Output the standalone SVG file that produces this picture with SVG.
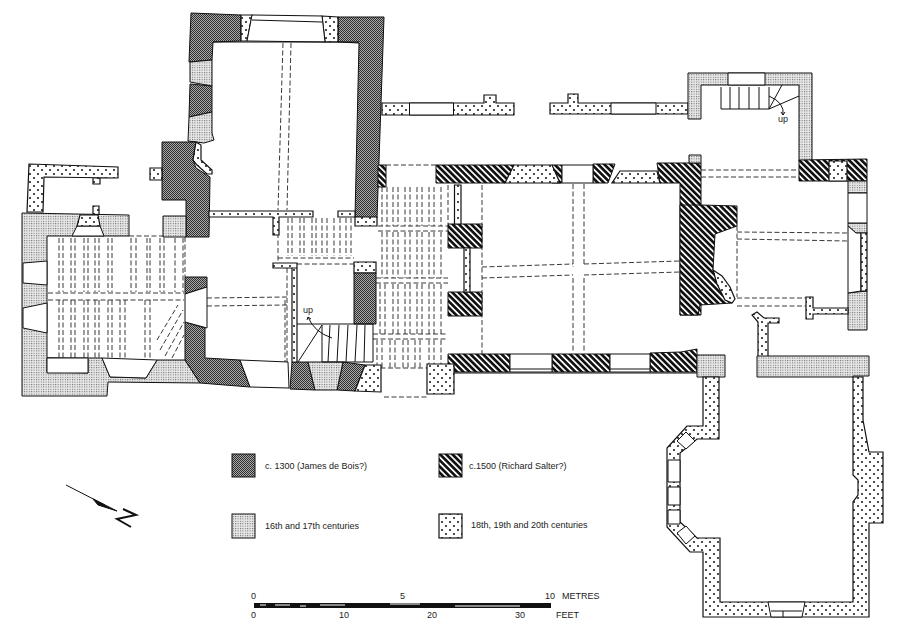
<svg xmlns="http://www.w3.org/2000/svg" width="900" height="635" viewBox="0 0 900 635">
<style>
text{font-family:"Liberation Sans",Arial,sans-serif;font-size:9px;fill:#222}
.a{fill:url(#p13);stroke:#111;stroke-width:1}
.b{fill:url(#p15);stroke:#111;stroke-width:1}
.c{fill:url(#p16);stroke:#111;stroke-width:1}
.d{fill:url(#p18);stroke:#111;stroke-width:1.2}
.w{fill:#fff;stroke:#111;stroke-width:1}
.l{fill:none;stroke:#111;stroke-width:1}
.j{fill:none;stroke:#222;stroke-width:.9;stroke-dasharray:5 2.5}
</style>
<defs>
<pattern id="p13" width="2" height="2" patternUnits="userSpaceOnUse"><rect width="2" height="2" fill="#a8a8a8"/><rect width="1" height="1" fill="#303030"/><rect x="1" y="1" width="1" height="1" fill="#303030"/></pattern>
<pattern id="p15" width="4.400" height="4.400" patternUnits="userSpaceOnUse" patternTransform="rotate(45)"><rect width="4.400" height="4.400" fill="#fff"/><rect width="4.400" height="2.700" fill="#111"/></pattern>
<pattern id="p16" width="2.400" height="2.400" patternUnits="userSpaceOnUse"><rect width="2.400" height="2.400" fill="#e8e8e8"/><rect width="1" height="1" fill="#666"/></pattern>
<pattern id="p18" width="8" height="8" patternUnits="userSpaceOnUse"><rect width="8" height="8" fill="#fff"/><circle cx="2" cy="2" r="1" fill="#111"/><circle cx="6" cy="6" r="1" fill="#111"/></pattern>
</defs>
<rect width="900" height="635" fill="#fff"/>

<g id="joists">
<path class="j" d="M283 43L278 210M291 43L287 210M59 238V292M63 238V292M71 238V292M75 238V292M84 238V292M88 238V292M95 238V292M99 238V292M108 238V292M112 238V292M131 238V292M136 238V292M147 238V292M150 238V292M160 238V292M164 238V292M175 238V292M183 238V292"/>
<path class="j" d="M59 300V358M63 300V358M71 300V358M75 300V358M84 300V358M88 300V358M95 300V358M99 300V358M108 300V358M112 300V358M120 300V358M125 300V358M145 300V358M150 300V358M48 293L184 293M48 300L184 300M129 236H186M185 237V277M47 362H90M160 350L183 310M165 356L184 322M172 358L184 335M157 340L178 305"/>
<path class="j" d="M207 298L288 297M207 306L288 305M287 268V362M285 300V362M278 218V262M288 218V256M292 218V256M300 218V256M304 218V256M312 218V256M316 218V256M322 218V256M327 218V256M334 218V256M340 218V256M346 218V256M351 218V256M278 258H354M297 264H354"/>
<path class="j" d="M386 165H436M378 226H448M378 231H448M376 278H448M376 283H448M373 334H448M373 339H448M373 368H448M384 397H427M448 185V224"/>
<path class="j" d="M382 187V226M387 187V226M393 187V226M398 187V226M405 187V226M410 187V226M417 187V226M422 187V226M429 187V226M434 187V226M441 187V226M382 232V278M387 232V278M393 232V278M398 232V278M405 232V278M410 232V278M417 232V278M422 232V278M429 232V278M434 232V278M441 232V278M380 284V334M385 284V334M393 284V334M398 284V334M405 284V334M410 284V334M417 284V334M422 284V334M429 284V334M434 284V334M441 284V334M377 340V368M382 340V368M390 340V368M395 340V368M403 340V368M408 340V368M415 340V368M420 340V368M429 340V368M434 340V368M441 340V368"/>
<path class="j" d="M482 185V357M573 184V267M584 184V266M573 278V352M584 278V352M482 267L573 264M584 264L680 261M482 278L573 275M584 275L680 272M701 170L799 170M701 177L799 177M737 226V297M737 232L848 233M737 239L848 241M737 298H806M737 306H806"/>
</g>

<g id="tower">
<path class="a" d="M191 13L241 15L241 41L213 42L212 60L189 62ZM338 17L384 17L377 218L355 217L359 43L338 42Z"/>
<path class="a" d="M190 84L212 86L212 112L189 117Z"/>
<path class="c" d="M190 62L212 60L212 86L190 82ZM189 117L212 112L212 133L214 140L204 143L188 141Z"/>
<path class="d" d="M241 15L252 15L247 41L241 41ZM322 16L338 17L338 42L325 42Z"/>
<path class="w" d="M252 15L322 16L325 42L247 41Z"/>
<path class="l" d="M252 20L322 22M213 42H359"/>
<path class="a" d="M162 142L196 142L193 160L196 168L210 177L209 237L186 237L186 200L162 200Z"/>
<path class="d" d="M196 142L201 145L201 160L212 170L212 174L207 174L197 165L193 160ZM150 168H162V180H150ZM355 217H377V226H355Z"/>
</g>

<g id="west-range">
<path class="d" d="M29 164L118 167V178L44 177L43 212L27 212ZM93 178H100V184H93ZM93 206H99V215H93Z"/>
<path class="c" d="M22 213L129 215V236H47V358L88 359V373L47 372V358H102L110 377L146 378L157 360L185 360L200 383L108 382L107 396H22Z"/>
<path class="c" d="M163 216H186V237H163Z"/>
<path class="w" d="M23 263L47 261V285L23 283ZM23 308L47 303V333L23 328ZM47 358H88V373H47ZM77 226H100L104 236H72Z"/>
<path class="d" d="M80 215H98L100 226H77Z"/>
<path class="w" d="M102 358L157 360L146 378L110 377Z"/>
<path class="a" d="M185 277H207V287L185 294ZM185 322L205 328V358L240 360L250 387L200 383L185 360Z"/>
<path class="w" d="M185 294L207 287V328L185 322ZM240 360L288 362L289 388L250 387Z"/>
<path class="a" d="M292 362H308L315 390L290 389ZM343 362L365 365L355 391L337 390Z"/>
<path class="c" d="M308 362H343L337 390H315Z"/>
<path class="d" d="M365 365L381 365V392L355 391Z"/>
<path class="d" d="M209 211H313V217H279V235H273V217H209ZM338 211H355V217H338ZM273 263H297V268H273ZM292 268H297V362H292ZM354 262H376V273H354Z"/>
<path class="a" d="M354 273H376V324H354Z"/>
</g>

<g id="stair-west">
<path class="l" d="M297 324H373V362H322V325M322 325L298 362M330 325L328 362M339 325L337 362M348 325L346 362M357 325L355 362M365 325L364 362"/>
<path class="l" d="M332 338Q314 332 308 317M308 317L311 319M308 317L307 320"/>
<text x="303" y="313">up</text>
</g>

<g id="north-walls">
<path class="d" d="M382 103H484V95H496V103H514V115H382ZM550 103H568V94H578V103H688V114H550Z"/>
<path class="w" d="M409.500 103H453.500V115H409.500ZM611 103H656V114H611Z"/>
</g>

<g id="hall">
<path class="b" d="M378 165H386V187H378ZM436 165L514 165L505 183H436ZM552 165L562 165V183H552ZM593 164L615 164L608 183H593ZM657 163L701 163V315H680V183H660Z"/>
<path class="d" d="M514 165L552 165L560 183L505 183ZM620 171H657L660 183H612Z"/>
<path class="w" d="M562 165H593V183H562Z"/>
<path class="c" d="M689 155H701V163H689Z"/>
<path class="b" d="M701 205L737 206V226L715 234L713 270L732 303L700 305L698 315H680V205Z"/>
<path class="d" d="M713 270L722 276L730 287L735 299L732 303L725 300L717 284Z"/>
<path class="b" d="M448 224H482V248H448ZM448 292H482V316H448Z"/>
<path class="d" d="M454.500 185H461V224H454.500ZM464 248H470V292H464Z"/>
<path class="b" d="M448 354L510 354V372H448ZM552 354H610V372H552ZM650 353L681 352L697 349V372H650Z"/>
<path class="w" d="M510 354H552V372H510ZM610 354H650V372H610Z"/>
<path class="l" d="M510 369H552M610 369H650M448 373H698"/>
<path class="d" d="M427 364H454V394H427Z"/>
<path class="c" d="M697 355H725V377H697Z"/>
</g>

<g id="ne-stair">
<path class="c" d="M688 73H812V161H799V85H701V119H688Z"/>
<path class="w" d="M728 73H765V85H728Z"/>
<path class="l" d="M721 87V109H769L799 96M769 109L782 85M730 87V109M739 87V109M749 87V109M759 87V109M769 87V109M769 96Q785 103 783 115M783 115L781 112M783 115L785 112"/>
<text x="778" y="122">up</text>
</g>

<g id="east-room">
<path class="b" d="M799 160L867 159V181H799Z"/>
<path class="d" d="M829 161H847V181H829Z"/>
<path class="c" d="M848 181H867V193H848ZM848 223H867V233L856 233L848 226ZM848 293L867 291V330H848Z"/>
<path class="w" d="M848 193H867V223H848ZM848 226L856 233H861V291L848 293Z"/>
<path class="d" d="M861 233H867V291H861Z"/>
<path class="d" d="M806 297H813V308H848V314H813V319H806ZM752 315L757 312L764 318H779V323H768V359H758V322Z"/>
</g>

<g id="south-wing">
<path class="d" d="M703 377H719V439H697L680 453V522L697 538H720V602H853V502L858 495V480L853 475V377H863L863 420L869 452H883V523H869V617H703V552H690L667 527V448L687 426H703Z"/>
<path class="c" d="M757 356H869V376H853V377H757Z"/>
<path class="w" d="M668 460H680V482H668ZM668 487H680V505H668ZM668 510H680V524H668ZM677 441L686 432L695 441L686 449ZM677 533L686 526L695 536L686 544ZM768 602H805L802 617H771Z"/>
<path class="l" d="M771 611H802M783 611V617"/>
</g>

<g id="legend">
<rect class="a" x="232" y="454" width="23" height="23"/>
<text x="265" y="469">c. 1300 (James de Bois?)</text>
<rect class="b" x="439" y="454" width="23" height="23"/>
<text x="469" y="469">c.1500 (Richard Salter?)</text>
<rect class="c" x="232" y="514" width="23" height="24"/>
<text x="265" y="529">16th and 17th centuries</text>
<rect class="d" x="439" y="514" width="23" height="24"/>
<text x="471" y="528">18th, 19th and 20th centuries</text>
</g>

<g id="north-arrow">
<path class="l" d="M66 485L105 505"/>
<path d="M93 499L117 511L98 505Z" fill="#111" stroke="#111"/>
<path class="l" style="stroke-width:2" d="M123 509L136 515L117 519L131 527"/>
</g>

<g id="scale">
<rect x="254" y="603" width="297" height="5" fill="#111"/>
<path d="M260 605H266M275 605H290M300 606H306M320 605H345M390 604H420M455 606H520" stroke="#fff" fill="none"/>
<text x="251" y="599">0</text><text x="400" y="599">5</text><text x="545" y="599">10</text><text x="562" y="599">METRES</text>
<text x="251" y="618">0</text><text x="339" y="618">10</text><text x="427" y="618">20</text><text x="515" y="618">30</text><text x="556" y="618">FEET</text>
</g>
</svg>
